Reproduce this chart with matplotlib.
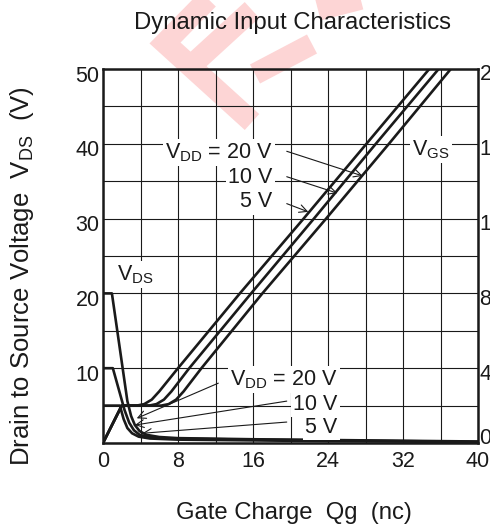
import numpy as np
import matplotlib
matplotlib.use("Agg")
import matplotlib.pyplot as plt
import matplotlib.transforms as mtrans
from matplotlib.lines import Line2D

plt.rcParams['font.family'] = ['Liberation Sans', 'DejaVu Sans']
plt.rcParams['mathtext.fontset'] = 'custom'
plt.rcParams['mathtext.rm'] = 'Liberation Sans'
plt.rcParams['mathtext.it'] = 'Liberation Sans'

# gate charge Qg (nC) and VGS (V) for VDD = 5, 10, 20 V
qg_vgs_5 = [0, 2.0, 3.6, 4.4, 5.2, 6.0, 8.0, 14.6, 21.4, 28.1, 34.8]
vgs_5 = [0, 2.0, 2.0, 2.08, 2.32, 2.76, 4.0, 8.0, 12.0, 16.0, 20.0]
qg_vgs_10 = [0, 2.0, 4.9, 5.7, 6.5, 7.3, 9.2, 15.8, 22.5, 29.1, 35.8]
vgs_10 = [0, 2.0, 2.0, 2.08, 2.32, 2.76, 4.0, 8.0, 12.0, 16.0, 20.0]
qg_vgs_20 = [0, 2.0, 6.2, 7.0, 7.8, 8.6, 10.5, 17.0, 23.8, 30.5, 37.1]
vgs_20 = [0, 2.0, 2.0, 2.08, 2.32, 2.76, 4.0, 8.0, 12.0, 16.0, 20.0]

# gate charge Qg (nC) and VDS (V)
qg_vds_20 = [0, 0.95, 2.6, 3.0, 3.4, 3.9, 4.6, 6.0, 8.0, 16, 24, 32, 40]
vds_20 = [20, 20, 5.6, 3.6, 2.4, 1.6, 1.1, 0.8, 0.65, 0.5, 0.4, 0.3, 0.2]
qg_vds_10 = [0, 1.05, 2.3, 2.8, 3.3, 3.9, 4.7, 6.5, 16, 24, 32, 40]
vds_10 = [10, 10, 4.4, 2.7, 1.7, 1.1, 0.85, 0.6, 0.45, 0.35, 0.25, 0.15]
qg_vds_5 = [0, 1.8, 2.2, 2.6, 3.1, 3.8, 5.0, 8.0, 16, 24, 32, 40]
vds_5 = [5, 5, 3.2, 2.0, 1.3, 0.85, 0.6, 0.45, 0.35, 0.25, 0.2, 0.1]

x_ticks = list(range(0, 41, 4))
x_labels = ['0', '', '8', '', '16', '', '24', '', '32', '', '40']
y_ticks = list(range(0, 51, 5))
y_labels = ['', '', '10', '', '20', '', '30', '', '40', '', '50']
vgs_ticks = [0, 4, 8, 12, 16, 20]

W, H = 490, 529
fig = plt.figure(figsize=(W / 100, H / 100), dpi=100)

# faint watermark behind everything
def fx(x):
    return x / W
def fy(y):
    return 1 - y / H
wm = [
    ([215, 165, 252], [-8, 43, 122]),
    ([193, 252], [64, 10]),
    ([255, 312], [74, 44]),
    ([318, 380], [10, -6]),
]
for xs, ys in wm:
    fig.add_artist(Line2D([fx(v) for v in xs], [fy(v) for v in ys],
                          color='#fdd5d5', lw=15.5, solid_capstyle='butt',
                          solid_joinstyle='miter', zorder=0))

ax = fig.add_axes([103 / W, 86 / H, 375 / W, 374 / H])
ax.set_facecolor('none')
ax.set_xlim(0, 40)
ax.set_ylim(0, 50)
ax.set_xticks(x_ticks)
ax.set_xticklabels(x_labels)
ax.set_yticks(y_ticks)
ax.set_yticklabels(y_labels)
ax.grid(True, color='#1a1a1a', lw=0.8)
ax.set_axisbelow(True)
ax.tick_params(length=0, labelsize=15.5, colors='#1a1a1a')
ax.tick_params(axis='x', pad=6)
ax.tick_params(axis='y', pad=2.5)
off = mtrans.ScaledTranslation(0, -4.5 / 100, fig.dpi_scale_trans)
for lab in ax.get_yticklabels():
    lab.set_transform(lab.get_transform() + off)
for s in ax.spines.values():
    s.set_linewidth(1.8)
    s.set_color('#1a1a1a')

lc = '#1a1a1a'
ax.plot(qg_vds_20, vds_20, color=lc, lw=1.9, zorder=3)
ax.plot(qg_vds_10, vds_10, color=lc, lw=1.9, zorder=3)
ax.plot(qg_vds_5, vds_5, color=lc, lw=1.9, zorder=3)

ax2 = ax.twinx()
ax2.set_ylim(0, 20)
ax2.set_yticks(vgs_ticks)
ax2.tick_params(length=0, labelsize=15.5, pad=1, colors='#1a1a1a')
for i, lab in enumerate(ax2.get_yticklabels()):
    dy = 6.5 if i == 0 else -3.5
    lab.set_transform(lab.get_transform() +
                      mtrans.ScaledTranslation(0, dy / 100, fig.dpi_scale_trans))
for s in ax2.spines.values():
    s.set_visible(False)
ax2.plot(qg_vgs_5, vgs_5, color=lc, lw=1.9)
ax2.plot(qg_vgs_10, vgs_10, color=lc, lw=1.9)
ax2.plot(qg_vgs_20, vgs_20, color=lc, lw=1.9)

box = dict(facecolor='white', edgecolor='none', pad=1.5)
tk = dict(fontsize=15.5, color='#1a1a1a', zorder=4, bbox=box)

# upper labels (VGS)
ax.text(18.1, 38.1, r'V$_{\mathrm{DD}}$ = 20 V', ha='right', va='baseline', **tk)
ax.text(18.1, 34.7, '10 V', ha='right', va='baseline', **tk)
ax.text(18.1, 31.5, '5 V', ha='right', va='baseline', **tk)
ax.text(33.0, 38.5, r'V$_{\mathrm{GS}}$', ha='left', va='baseline', **tk)
ax.text(1.5, 21.8, r'V$_{\mathrm{DS}}$', ha='left', va='baseline', **tk)

# lower labels (VDS)
ax.text(25.0, 7.7, r'V$_{\mathrm{DD}}$ = 20 V', ha='right', va='baseline', **tk)
ax.text(25.0, 4.4, '10 V', ha='right', va='baseline', **tk)
ax.text(25.0, 1.3, '5 V', ha='right', va='baseline', **tk)

ap = dict(arrowstyle='->', color=lc, lw=0.8, shrinkA=0, shrinkB=0,
          mutation_scale=14)
arrows = [
    ((19.6, 39.0), (27.7, 35.7)),
    ((19.6, 35.6), (25.0, 33.4)),
    ((19.6, 32.0), (21.9, 30.9)),
    ((12.3, 8.0), (3.6, 3.3)),
    ((19.6, 5.6), (3.4, 2.4)),
    ((19.6, 2.8), (4.2, 1.3)),
]
for start, end in arrows:
    ax.annotate('', xy=end, xytext=start, arrowprops=ap, zorder=5)

fig.text(292 / W, fy(29), 'Dynamic Input Characteristics', ha='center',
         va='baseline', fontsize=17.2, color='#1a1a1a')
fig.text(293.5 / W, fy(519), 'Gate Charge  Qg  (nc)', ha='center',
         va='baseline', fontsize=17.2, color='#1a1a1a')
fig.text(29 / W, fy(276), r'Drain to Source Voltage  V$_{\mathrm{DS}}$  (V)',
         ha='center', va='baseline', rotation=90, rotation_mode='anchor',
         fontsize=18.5, color='#1a1a1a')

plt.savefig('out.png', dpi=100)
